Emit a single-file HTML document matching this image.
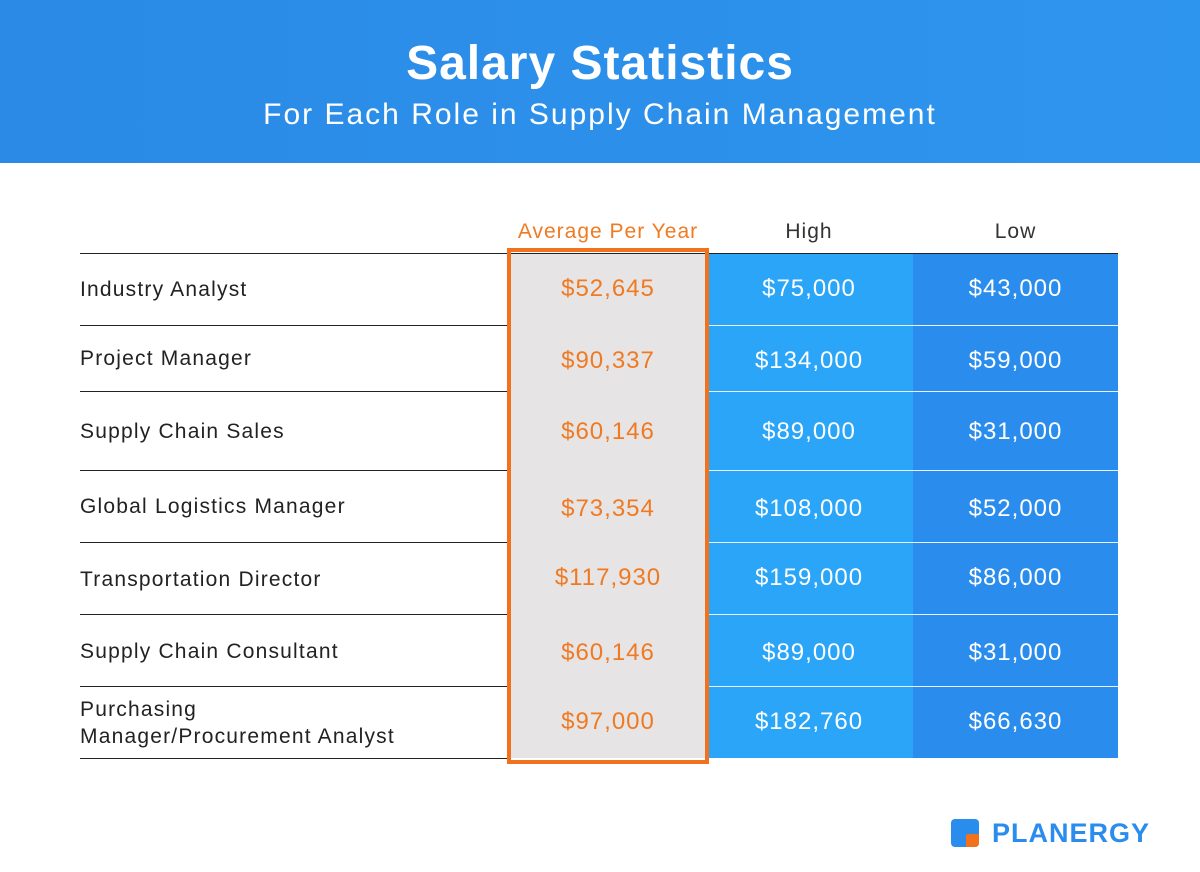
<!DOCTYPE html>
<html><head><style>
body{margin:0;width:1200px;height:872px;background:#fff;font-family:"Liberation Sans",sans-serif;position:relative;overflow:hidden}
.hdr{position:absolute;left:0;top:0;width:1200px;height:163px;background:linear-gradient(90deg,#2a8ae6,#2e95ee);color:#fff;text-align:center}
.t1{position:absolute;top:36px;width:100%;font-size:48px;line-height:56px;letter-spacing:3px;font-weight:bold;letter-spacing:1px}
.t2{position:absolute;top:97px;width:100%;font-size:30px;line-height:36px;letter-spacing:2px}
.col{position:absolute;top:253px;height:505px}
.line{position:absolute;left:80px;width:1038px;height:1px;background:#222}
.wl{position:absolute;left:709px;width:409px;height:1px;background:#e8f2fc}
.lab{position:absolute;left:80px;font-size:21px;color:#222;line-height:27px;letter-spacing:1.2px}
.v{position:absolute;font-size:24px;text-align:center;line-height:30px;letter-spacing:1px}
.h{position:absolute;top:220px;font-size:21px;text-align:center;color:#333;letter-spacing:1px}
</style></head><body>
<div class="hdr"><div class="t1">Salary Statistics</div><div class="t2">For Each Role in Supply Chain Management</div></div>
<div class="h" style="left:507px;width:202px;color:#f07a22">Average Per Year</div>
<div class="h" style="left:709px;width:200px">High</div>
<div class="h" style="left:913px;width:205px">Low</div>
<div class="col" style="left:507px;width:202px;background:#e6e4e4"></div>
<div class="col" style="left:709px;width:204px;background:#2aa5f8"></div>
<div class="col" style="left:913px;width:205px;background:#2a8ded"></div>
<div class="line" style="top:253px"></div>
<div class="line" style="top:325px;width:427px"></div>
<div class="line" style="top:391px;width:427px"></div>
<div class="line" style="top:470px;width:427px"></div>
<div class="line" style="top:542px;width:427px"></div>
<div class="line" style="top:614px;width:427px"></div>
<div class="line" style="top:686px;width:427px"></div>
<div class="line" style="top:758px;width:427px"></div>
<div class="wl" style="top:325px"></div><div class="wl" style="top:391px"></div><div class="wl" style="top:470px"></div><div class="wl" style="top:542px"></div><div class="wl" style="top:614px"></div><div class="wl" style="top:686px"></div>
<div style="position:absolute;left:507px;top:248px;width:194px;height:508px;border:4px solid #f2711c"></div>
<div class="lab" style="top:276px">Industry Analyst</div>
<div class="lab" style="top:345px">Project Manager</div>
<div class="lab" style="top:418px">Supply Chain Sales</div>
<div class="lab" style="top:493px">Global Logistics Manager</div>
<div class="lab" style="top:566px">Transportation Director</div>
<div class="lab" style="top:638px">Supply Chain Consultant</div>
<div class="lab" style="top:696px">Purchasing<br>Manager/Procurement Analyst</div>
<div id="vals"></div>
<script>
var rows=[[289,"$52,645","$75,000","$43,000"],[361,"$90,337","$134,000","$59,000"],[432,"$60,146","$89,000","$31,000"],[509,"$73,354","$108,000","$52,000"],[578,"$117,930","$159,000","$86,000"],[653,"$60,146","$89,000","$31,000"],[722,"$97,000","$182,760","$66,630"]];
var h="";rows.forEach(function(r){var t=r[0]-15;
h+='<div class="v" style="left:507px;width:202px;top:'+t+'px;color:#f07a22">'+r[1]+'</div>';
h+='<div class="v" style="left:709px;width:200px;top:'+t+'px;color:#fff">'+r[2]+'</div>';
h+='<div class="v" style="left:913px;width:205px;top:'+t+'px;color:#fff">'+r[3]+'</div>';});
document.getElementById("vals").innerHTML=h;
</script>
<div style="position:absolute;left:951px;top:819px;width:28px;height:28px;background:#2a8ded;border-radius:4px"></div>
<div style="position:absolute;left:966px;top:834px;width:13px;height:13px;background:#f2711c;border-radius:2px 0 4px 0"></div>
<div style="position:absolute;left:992px;top:818px;font-size:27px;font-weight:bold;color:#2a8ded;letter-spacing:1px">PLANERGY</div>
</body></html>
